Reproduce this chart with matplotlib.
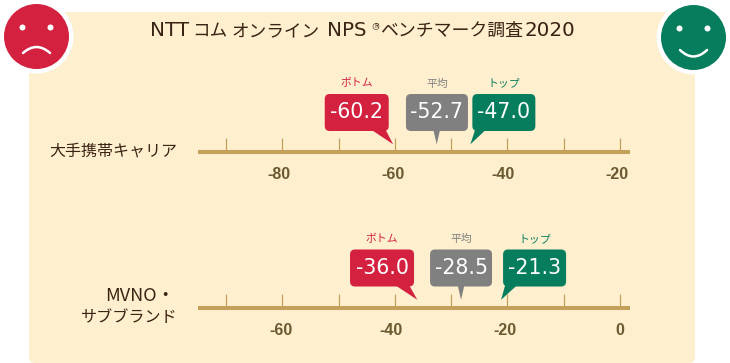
import matplotlib
matplotlib.use("Agg")
import matplotlib.pyplot as plt
from matplotlib.patches import FancyBboxPatch, Polygon, Circle, PathPatch
from matplotlib.path import Path
from matplotlib.transforms import ScaledTranslation

# ---- data ----
title_parts = ["NTT", "コム", "オンライン", "NPS", "ベンチマーク調査", "2020"]
title_mark = "R"
categories = ["大手携帯キャリア", "MVNO・\nサブブランド"]
stat_names = ["ボトム", "平均", "トップ"]
bottom_values = [-60.2, -36.0]
mean_values = [-52.7, -28.5]
top_values = [-47.0, -21.3]
tick_values = [[-90, -80, -70, -60, -50, -40, -30, -20],
               [-70, -60, -50, -40, -30, -20, -10, 0]]
tick_labels = [["", "-80", "", "-60", "", "-40", "", "-20"],
               ["", "-60", "", "-40", "", "-20", "", "0"]]

# ---- style ----
W, H = 730, 363
BG = "#FEEFCF"
RED, GRAY, GREEN = "#D42140", "#808080", "#067E5D"
AXIS = "#C4A15A"
TICKTXT = "#6B5A30"
DARK = "#3B2314"
JP = ["Noto Sans CJK JP", "DejaVu Sans"]
colors = [RED, GRAY, GREEN]

fig = plt.figure(figsize=(W / 100, H / 100), dpi=100, facecolor="white")


def pixel_axes(z):
    a = fig.add_axes([0, 0, 1, 1], zorder=z)
    a.set_xlim(0, W)
    a.set_ylim(H, 0)
    a.axis("off")
    return a


back = pixel_axes(0)
front = pixel_axes(2)

# panel
back.add_patch(FancyBboxPatch((33, 16), 658, 343, boxstyle="round,pad=4,rounding_size=6",
                              fc=BG, ec="none"))


def face(cx, cy, col, eye_dx, eye_dy, mouth_dy, mouth_bend):
    back.add_patch(Circle((cx, cy), 37, fc="white", ec="none"))
    back.add_patch(Circle((cx, cy), 32.5, fc=col, ec="none"))
    for s in (-1, 1):
        back.add_patch(Circle((cx + s * eye_dx, cy + eye_dy), 3, fc="white", ec="none"))
    p = Path([(cx - 13.5, cy + mouth_dy), (cx, cy + mouth_dy + mouth_bend), (cx + 13.5, cy + mouth_dy)],
             [Path.MOVETO, Path.CURVE3, Path.CURVE3])
    back.add_patch(PathPatch(p, fc="none", ec="white", lw=1.8, capstyle="round"))


face(36.5, 36.5, RED, 14, -9, 16.5, -12)
face(693.5, 37.5, GREEN, 14, -9, 12.5, 13)

# title
title_x = [150, 192, 231.5, 327, 380.5, 525]
title_font = [("DejaVu Sans", 14.3), (JP, 12.7), (JP, 12.7), ("DejaVu Sans", 14.3), (JP, 12.9), ("DejaVu Sans", 14.3)]
for s, x, (fam, size) in zip(title_parts, title_x, title_font):
    back.text(x, 31, s, family=fam, fontsize=size, color=DARK, va="center", ha="left")
back.text(376, 26.5, title_mark, family=JP, fontsize=4.5, color=DARK, va="center", ha="center")
back.add_patch(Circle((376, 26.5), 3, fc="none", ec=DARK, lw=0.4))

# scales
line_y = [151.5, 307.5]
xlims = [(-94.96, -18.24), (-74.96, 1.78)]
label_shift = [[0, -3, 0, -1.7, 0, -4.4, 0, -2.7], [0, -1, 0, -4, 0, -2.7, 0, 0]]
axes = []
for i in range(2):
    y = line_y[i]
    a = fig.add_axes([198 / W, 1 - y / H, 432 / W, 20 / H], zorder=1)
    a.patch.set_visible(False)
    a.set_xlim(*xlims[i])
    a.set_ylim(0, 1)
    for s in ("top", "left", "right"):
        a.spines[s].set_visible(False)
    a.spines["bottom"].set_linewidth(2.9)
    a.spines["bottom"].set_color(AXIS)
    a.spines["bottom"].set_capstyle("butt")
    a.yaxis.set_visible(False)
    a.set_xticks(tick_values[i])
    a.set_xticklabels(tick_labels[i], family="Liberation Sans", fontweight="bold",
                      fontsize=11.5, color=TICKTXT)
    a.tick_params(axis="x", direction="in", length=10, width=0.9, color=AXIS, pad=11.5)
    for lab, dx in zip(a.get_xticklabels(), label_shift[i]):
        lab.set_transform(lab.get_transform() + ScaledTranslation(dx / 100, 0, fig.dpi_scale_trans))
    axes.append(a)

# category labels
back.text(177, 151, categories[0], family=JP, fontsize=11.5, color=DARK, ha="right", va="center")
back.text(175, 296, categories[1].split("\n")[0], family=JP, fontsize=13, color=DARK, ha="right", va="center")
back.text(178, 318, categories[1].split("\n")[1], family=JP, fontsize=11.6, color=DARK, ha="right", va="center")

# bubbles: body left edge, tail base and tip given as pixel offsets from the value position
body_top = [94, 249.5]
body_h = 37
body_w = [64, 62, 63]
body_dx = [[-69, -30, 4.3], [-67.3, -29.5, 3]]
tail_base = [[(-22, -8), (-2.6, 4), (7, 17.5)], [(-21.6, -8), (-1.8, 4.8), (5, 16.7)]]
tip_dx = [[-0.6, 0.8, 2.3], [0, 1.5, 1]]
tip_gap = 13.3
for i in range(2):
    vals = [bottom_values[i], mean_values[i], top_values[i]]
    for j, v in enumerate(vals):
        xp = axes[i].transData.transform((v, 0))[0]
        left = xp + body_dx[i][j]
        top = body_top[i]
        front.add_patch(FancyBboxPatch((left + 5, top + 5), body_w[j] - 10, body_h - 10,
                                       boxstyle="round,pad=5,rounding_size=5", fc=colors[j], ec="none"))
        b0, b1 = tail_base[i][j]
        bottom = top + body_h
        front.add_patch(Polygon([(xp + b0, bottom - 1), (xp + b1, bottom - 1),
                                 (xp + tip_dx[i][j], bottom + tip_gap)], closed=True, fc=colors[j], ec="none"))
        cx = left + body_w[j] / 2
        front.text(cx, top + body_h / 2 - 0.5, f"{v:.1f}", family="DejaVu Sans", fontsize=14.8,
                   color="white", ha="center", va="center")
        front.text(cx, top - 10.5, stat_names[j], family=JP, fontsize=7.8, color=colors[j], ha="center", va="center")

fig.savefig("out.png", dpi=100, facecolor="white")
